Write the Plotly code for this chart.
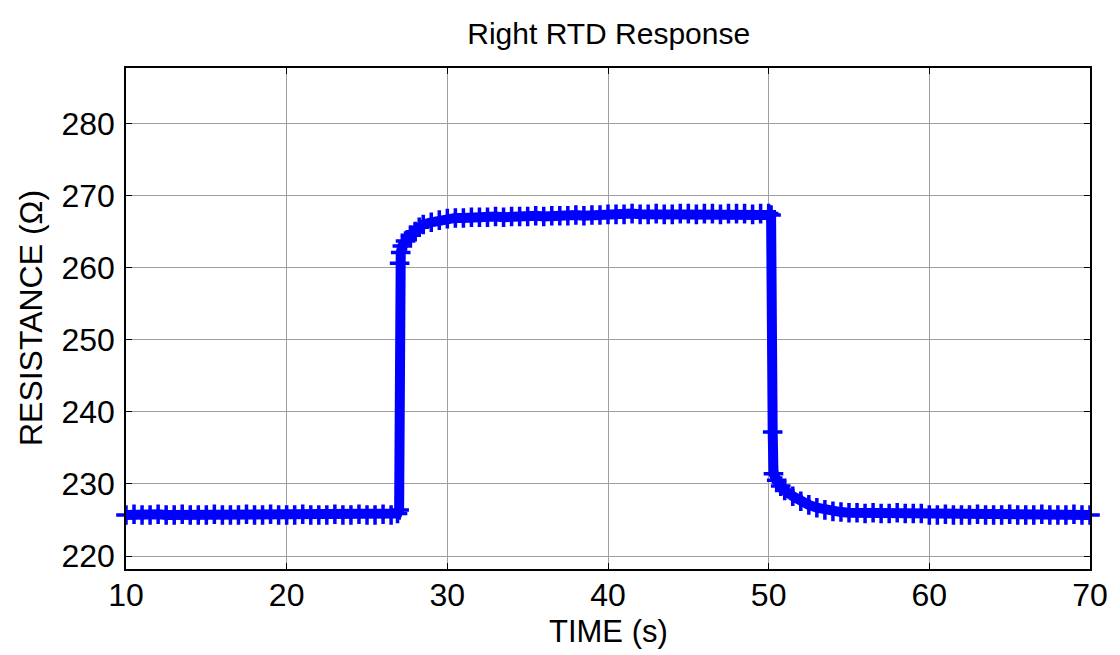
import plotly.graph_objects as go

# Time (s)
time_s = [
    10.0, 10.5, 11.0, 11.5, 12.0, 12.5, 13.0, 13.5, 14.0, 14.5,
    15.0, 15.5, 16.0, 16.5, 17.0, 17.5, 18.0, 18.5, 19.0, 19.5,
    20.0, 20.5, 21.0, 21.5, 22.0, 22.5, 23.0, 23.5, 24.0, 24.5,
    25.0, 25.5, 26.0, 26.5,
    26.9, 27.0, 27.03, 27.1, 27.2, 27.4, 27.7, 28.0, 28.25, 28.5, 29.0, 29.5,
    30.0, 30.5, 31.0, 31.5, 32.0, 32.5, 33.0, 33.5, 34.0, 34.5,
    35.0, 35.5, 36.0, 36.5, 37.0, 37.5, 38.0, 38.5, 39.0, 39.5,
    40.0, 40.5, 41.0, 41.5, 42.0, 42.5, 43.0, 43.5, 44.0, 44.5,
    45.0, 45.5, 46.0, 46.5, 47.0, 47.5, 48.0, 48.5, 49.0, 49.5,
    50.0,
    50.15, 50.25, 50.3, 50.5, 50.75,
    51.0, 51.5, 52.0, 52.5, 53.0, 53.5, 54.0, 54.5, 55.0, 55.5,
    56.0, 56.5, 57.0, 57.5, 58.0, 58.5, 59.0, 59.5, 60.0, 60.5,
    61.0, 61.5, 62.0, 62.5, 63.0, 63.5, 64.0, 64.5, 65.0, 65.5,
    66.0, 66.5, 67.0, 67.5, 68.0, 68.5, 69.0, 69.5, 70.0,
]

# Resistance (ohm)
resistance = [
    225.7, 225.8, 225.7, 225.7, 225.8, 225.7, 225.7, 225.8, 225.7, 225.7,
    225.7, 225.8, 225.7, 225.7, 225.7, 225.8, 225.7, 225.7, 225.8, 225.7,
    225.7, 225.7, 225.8, 225.7, 225.7, 225.7, 225.8, 225.7, 225.7, 225.8,
    225.7, 225.7, 225.8, 225.7,
    225.9, 226.4, 260.6, 262.1, 263.0, 263.7, 264.5, 265.0, 265.6, 266.0, 266.3, 266.6,
    266.8, 266.9, 266.9, 267.0, 267.0, 267.0, 267.1, 267.0, 267.1, 267.1,
    267.1, 267.2, 267.1, 267.2, 267.2, 267.2, 267.3, 267.2, 267.3, 267.3,
    267.4, 267.4, 267.4, 267.5, 267.4, 267.4, 267.5, 267.4, 267.4, 267.5,
    267.5, 267.4, 267.5, 267.5, 267.4, 267.5, 267.5, 267.5, 267.4, 267.5,
    267.5,
    267.3, 237.2, 231.4, 230.5, 229.7,
    229.1, 228.3, 227.6, 227.1, 226.7, 226.4, 226.2, 226.1, 226.0, 226.0,
    225.9, 226.0, 225.9, 225.9, 226.0, 225.9, 225.9, 225.9, 225.7, 225.7,
    225.8, 225.7, 225.7, 225.7, 225.8, 225.7, 225.7, 225.7, 225.8, 225.7,
    225.7, 225.7, 225.8, 225.7, 225.7, 225.7, 225.8, 225.7, 225.7,
]

x_ticks = [10, 20, 30, 40, 50, 60, 70]
y_ticks = [220, 230, 240, 250, 260, 270, 280]

FONT = "Liberation Sans, Arial, Helvetica, sans-serif"
BLUE = "#0000ff"
GRID = "#a0a0a0"

fig = go.Figure()
fig.add_trace(go.Scatter(
    x=time_s, y=resistance, mode="lines+markers",
    line=dict(color=BLUE, width=10),
    marker=dict(symbol="cross-thin", size=14, color=BLUE,
                line=dict(color=BLUE, width=3.5)),
    cliponaxis=False, showlegend=False,
))

fig.update_layout(
    width=1120, height=655,
    margin=dict(l=126, r=28, t=68, b=86),
    paper_bgcolor="white", plot_bgcolor="white",
    font=dict(family=FONT, color="black"),
    title=dict(text="Right RTD Response", x=0.5435, xanchor="center",
               y=1 - 33 / 655, yanchor="middle", yref="container",
               font=dict(size=30, family=FONT, color="black")),
    annotations=[
        dict(text="TIME (s)", xref="paper", yref="paper", x=0.5, y=-0.125,
             xanchor="center", yanchor="middle", showarrow=False,
             font=dict(size=31, family=FONT, color="black")),
        dict(text="RESISTANCE (Ω)", xref="paper", yref="paper", x=-0.099, y=0.5,
             xanchor="center", yanchor="middle", textangle=-90, showarrow=False,
             font=dict(size=32, family=FONT, color="black")),
    ],
)

fig.update_xaxes(
    range=[10, 70], tickvals=x_ticks, ticktext=[str(v) for v in x_ticks],
    showgrid=True, gridcolor=GRID, gridwidth=1,
    showline=True, linecolor="black", linewidth=1.5, mirror="ticks",
    ticks="inside", ticklen=6, tickcolor="black",
    tickfont=dict(size=32, family=FONT, color="black"),
    ticklabelstandoff=-3, zeroline=False,
)
fig.update_yaxes(
    range=[218.2, 287.7], tickvals=y_ticks, ticktext=[str(v) for v in y_ticks],
    showgrid=True, gridcolor=GRID, gridwidth=1,
    showline=True, linecolor="black", linewidth=1.5, mirror="ticks",
    ticks="inside", ticklen=6, tickcolor="black",
    tickfont=dict(size=32, family=FONT, color="black"),
    ticklabelstandoff=3, zeroline=False,
)

fig.write_html(
    "out.html",
    config={"displayModeBar": False},
    post_script="document.body.style.margin='0px';document.body.style.overflow='hidden';",
)
